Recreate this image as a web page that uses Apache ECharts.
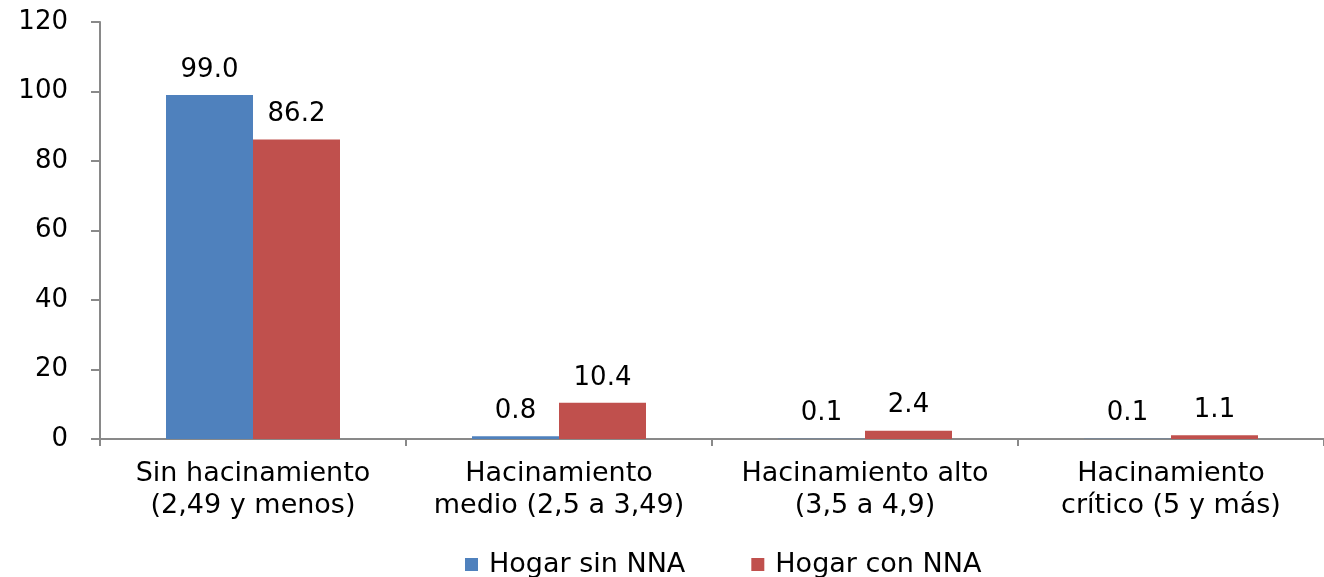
<!DOCTYPE html>
<html><head><meta charset="utf-8">
<script src="https://cdn.jsdelivr.net/npm/echarts@6/dist/echarts.min.js"></script>
<style>html,body{margin:0;padding:0;background:#fff}#c{width:1324px;height:577px}</style>
</head><body><div id="c"></div>
<script>
const categories = ['Sin hacinamiento\n(2,49 y menos)', 'Hacinamiento\nmedio (2,5 a 3,49)', 'Hacinamiento alto\n(3,5 a 4,9)', 'Hacinamiento\ncrítico (5 y más)'];
const sinNNA = [99.0, 0.8, 0.1, 0.1];
const conNNA = [86.2, 10.4, 2.4, 1.1];
const seriesNames = ['Hogar sin NNA', 'Hogar con NNA'];
const yTicks = {min: 0, max: 120, interval: 20};

const font = 'DejaVu Sans, Verdana, sans-serif';
const chart = echarts.init(document.getElementById('c'));
const lbl = {show: true, position: 'top', distance: 12, fontFamily: font, fontSize: 26, color: '#000', formatter: p => p.value.toFixed(1)};
chart.setOption({
  animation: false,
  grid: {left: 100, right: 0, top: 22, bottom: 138, containLabel: false},
  legend: {top: 546, left: 460, itemWidth: 13, itemHeight: 13, itemGap: 66,
    textStyle: {fontFamily: font, fontSize: 27, color: '#000', padding: [0, 0, 0, 6]}, icon: 'rect', data: seriesNames},
  xAxis: {type: 'category', data: categories,
    axisLine: {lineStyle: {color: '#898989', width: 2}},
    axisTick: {show: true, length: 7, lineStyle: {color: '#898989', width: 2}},
    axisLabel: {fontFamily: font, fontSize: 27, color: '#000', lineHeight: 32, margin: 19, interval: 0}},
  yAxis: {type: 'value', min: yTicks.min, max: yTicks.max, interval: yTicks.interval,
    splitLine: {show: false},
    axisLine: {show: true, lineStyle: {color: '#898989', width: 2}},
    axisTick: {show: true, length: 9, lineStyle: {color: '#898989', width: 2}},
    axisLabel: {fontFamily: font, fontSize: 26, color: '#000', margin: 32}},
  series: [
    {name: seriesNames[0], type: 'bar', data: sinNNA, barWidth: 87, barGap: '0%', itemStyle: {color: '#4F81BD'}, label: lbl},
    {name: seriesNames[1], type: 'bar', data: conNNA, barWidth: 87, itemStyle: {color: '#C0504D'}, label: lbl}
  ]
});
</script></body></html>
